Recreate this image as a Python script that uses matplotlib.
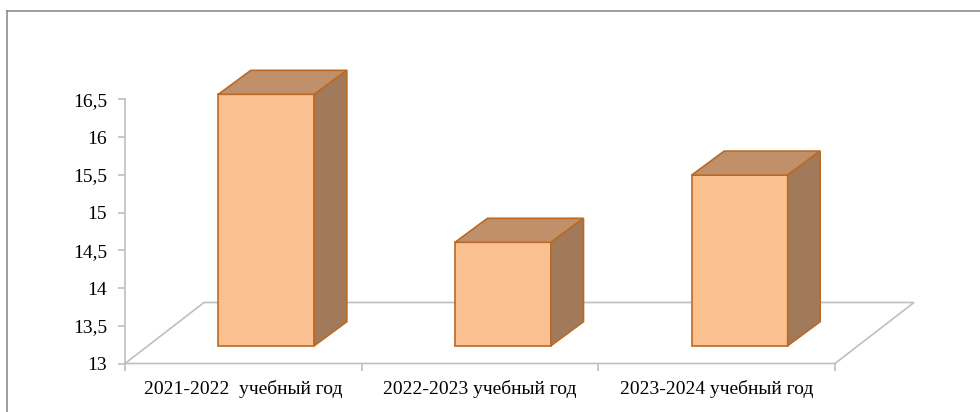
import matplotlib
matplotlib.use('Agg')
import matplotlib.pyplot as plt
from matplotlib.patches import Polygon
from matplotlib.lines import Line2D
import numpy as np

# data
categories = ['2021-2022  учебный год', '2022-2023 учебный год', '2023-2024 учебный год']
values = [16.33, 14.37, 15.26]
y_ticks = [13, 13.5, 14, 14.5, 15, 15.5, 16, 16.5]
y_labels = ['13', '13,5', '14', '14,5', '15', '15,5', '16', '16,5']

plt.rcParams['font.family'] = ['Liberation Serif', 'DejaVu Serif']

W, H = 980, 412
fig = plt.figure(figsize=(W / 100, H / 100), dpi=100)
# axes frame = front-left axis corner (125, 363.5) to (835, 99.3) in pixels
left, right, top, bottom = 125, 835, 99.3, 363.5
ax = fig.add_axes([left / W, 1 - bottom / H, (right - left) / W, (bottom - top) / H])
ax.set_xlim(-0.5, 2.5)
ax.set_ylim(13, 16.5)

# pixel -> data scale for the oblique 3d offsets
px_x = 3.0 / (right - left)
px_y = 3.5 / (bottom - top)
floor_dx, floor_dy = 79 * px_x, 61 * px_y
front_dx, front_dy = 23 * px_x, 17.8 * px_y
depth_dx, depth_dy = 32.5 * px_x, 24 * px_y
bar_w = 96 * px_x

grey = '#bfbfbf'
front_c = '#fac090'
top_c = '#bf9069'
side_c = '#a07a5a'
edge_c = '#bb6a26'

# floor
floor = Polygon([(-0.5, 13), (2.5, 13), (2.5 + floor_dx, 13 + floor_dy),
                 (-0.5 + floor_dx, 13 + floor_dy)], closed=True,
                facecolor='white', edgecolor=grey, lw=1.2, clip_on=False, zorder=1)
ax.add_patch(floor)

x = np.arange(len(categories))
vals = np.array(values)
base = 13 + front_dy
ax.bar(x + front_dx, vals - 13, bottom=base, width=bar_w, color=front_c,
       edgecolor=edge_c, linewidth=1.2, clip_on=False, zorder=3)

for xi, v in zip(x, vals):
    x0 = xi + front_dx - bar_w / 2
    x1 = xi + front_dx + bar_w / 2
    yt = v + front_dy
    top_face = Polygon([(x0, yt), (x1, yt), (x1 + depth_dx, yt + depth_dy),
                        (x0 + depth_dx, yt + depth_dy)], closed=True,
                       facecolor=top_c, edgecolor=edge_c, lw=1.2, clip_on=False, zorder=3)
    side_face = Polygon([(x1, base), (x1 + depth_dx, base + depth_dy),
                         (x1 + depth_dx, yt + depth_dy), (x1, yt)], closed=True,
                        facecolor=side_c, edgecolor=edge_c, lw=1.2, clip_on=False, zorder=3)
    ax.add_patch(top_face)
    ax.add_patch(side_face)

# axes styling
for s in ['top', 'right', 'bottom']:
    ax.spines[s].set_visible(False)
ax.spines['left'].set_color(grey)
ax.spines['left'].set_linewidth(1.2)
ax.set_yticks(y_ticks)
ax.set_yticklabels(y_labels, fontsize=14)
ax.tick_params(axis='y', colors=grey, labelcolor='black', length=5, width=1.2, pad=8)
ax.set_xticks(x)
ax.set_xticklabels(categories, fontsize=14)
ax.tick_params(axis='x', which='major', length=0, pad=12)
ax.set_xticks([-0.5, 0.5, 1.5, 2.5], minor=True)
ax.tick_params(axis='x', which='minor', colors=grey, length=5, width=1.2)
ax.patch.set_alpha(0)

# outer chart border (only top and left visible)
fig.add_artist(Line2D([7 / W, 7 / W], [0, 1 - 11 / H], color='#8c8c8c', lw=1.2))
fig.add_artist(Line2D([7 / W, 1], [1 - 11 / H, 1 - 11 / H], color='#8c8c8c', lw=1.2))

plt.savefig('out.png', dpi=100)
plt.close()
